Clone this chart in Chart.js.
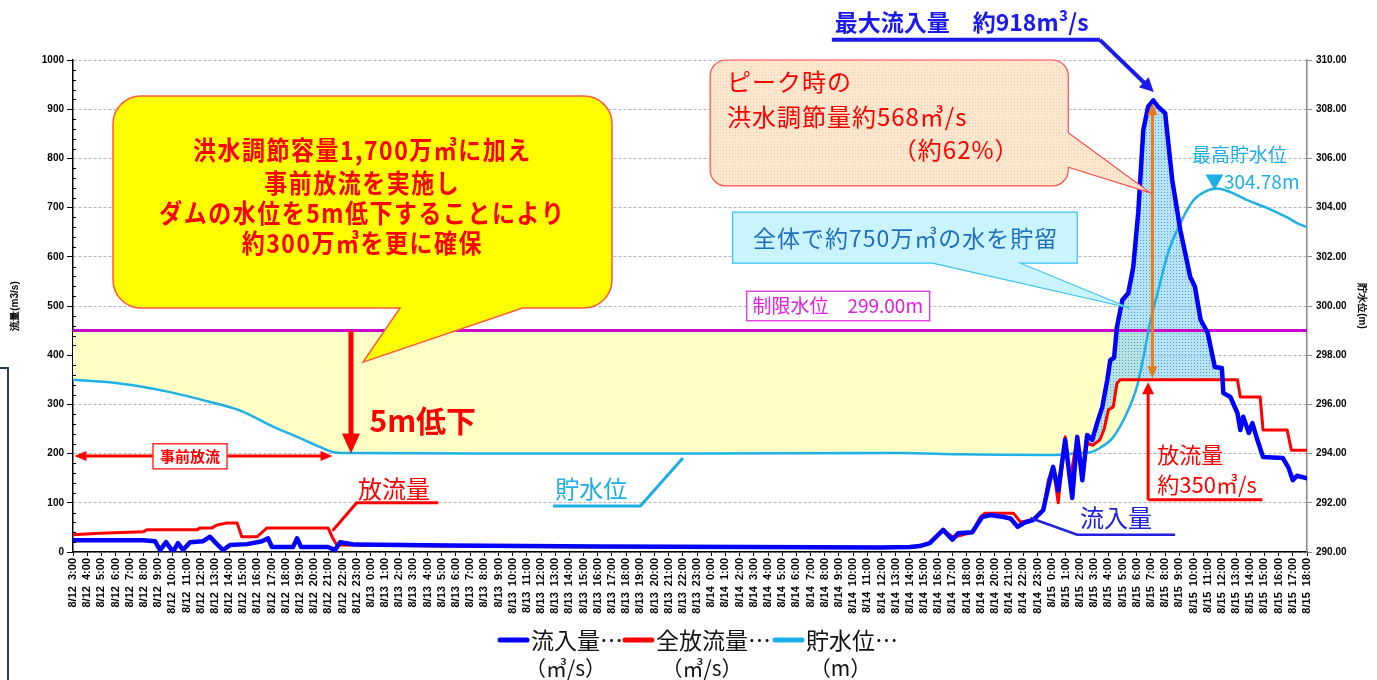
<!DOCTYPE html>
<html>
<head>
<meta charset="utf-8">
<script src="https://cdn.jsdelivr.net/npm/chart.js@4/dist/chart.umd.min.js"></script>
<style>
  html, body { margin: 0; padding: 0; background: #fff; }
  #wrap { width: 1377px; height: 680px; position: relative; }
</style>
</head>
<body>
<div id="wrap"><canvas id="dam"></canvas></div>
<script>
// hourly axis labels, 8/12 3:00 .. 8/15 18:00 (x value = hours since 8/12 3:00)
const DAYS = [['8/12', 3, 23], ['8/13', 0, 23], ['8/14', 0, 23], ['8/15', 0, 18]];
const TIME_LABELS = [];
DAYS.forEach(([d, from, to]) => { for (let h = from; h <= to; h++) TIME_LABELS.push(d + '  ' + h + ':00'); });

// 流入量 (m3/s)
const INFLOW_T = [0, 1.9, 4.94, 5.78, 6.14, 6.56, 7.05, 7.4, 7.76, 8.25, 9.17, 9.66, 10.08, 10.58, 11.07, 12.27, 13.33, 13.75, 14.03, 15.51,
  15.8, 16.08, 17.98, 18.48, 18.83, 19.89, 26.6, 37.2, 47.7, 56.9, 59.0, 59.7, 60.4, 61.35, 62.0, 62.4, 63.4, 64.1, 64.67, 65.6,
  66.1, 66.6, 67.1, 67.7, 68.4, 68.76, 69.1, 69.46, 69.95, 70.45, 70.8, 71.16, 71.5, 71.86, 72.2, 72.57, 72.92, 73.13, 73.4, 73.6,
  73.98, 74.4, 74.75, 75.1, 75.46, 75.8, 76.16, 76.5, 77.0, 77.5, 78.07, 78.77, 79.1, 79.5, 80.0, 80.5, 81.0, 81.1, 81.6, 82.1,
  82.3, 82.5, 82.9, 83.15, 83.5, 83.9, 85.3, 85.7, 86.0, 86.3, 87];
const INFLOW = [24, 24, 24, 22, 4, 20, 0, 18, 4, 20, 22, 31, 18, 4, 14, 16, 22, 28, 10, 10,
  28, 10, 10, 4, 20, 15, 13, 11, 10, 9, 10, 12, 18, 45, 25, 38, 40, 71, 75, 71,
  68, 51, 60, 65, 85, 132, 173, 125, 228, 110, 234, 146, 238, 228, 262, 295, 350, 390, 395, 457,
  512, 526, 579, 689, 858, 905, 918, 905, 892, 756, 654, 559, 539, 472, 445, 376, 374, 323, 315, 282,
  248, 275, 242, 262, 228, 193, 191, 171, 146, 155, 150];

// 全放流量 (m3/s)
const OUTFLOW_T = [0, 1.9, 4.94, 5.2, 8.74, 8.96, 9.8, 10.15, 10.86, 11.57, 11.9, 12.98, 13.68, 17.98, 18.27, 18.6, 23.06, 30.1, 44.2, 58.3,
  59.4, 60.4, 61.35, 62.06, 63.4, 63.96, 64.3, 66.3, 66.8, 67.7, 68.4, 68.76, 69.1, 69.46, 69.95, 70.3, 70.8, 71.16, 71.5, 71.9,
  72.4, 72.7, 73.0, 73.34, 73.6, 73.84, 82.1, 82.3, 83.7, 83.9, 85.6, 85.9, 87];
const OUTFLOW = [35, 38, 41, 45, 45, 49, 49, 55, 59, 59, 31, 31, 49, 49, 31, 14, 13, 11, 10, 9,
  10, 18, 45, 30, 40, 71, 79, 79, 61, 65, 85, 146, 173, 100, 234, 146, 234, 160, 221, 217,
  228, 250, 289, 295, 343, 350, 350, 315, 315, 248, 248, 207, 207];

// 貯水位 (m)
const LEVEL_T = [0, 3.3, 6.84, 9.66, 11.8, 14.1, 16.0, 17.4, 18.27, 19.2, 30.1, 44.2, 58.3, 62.5, 65.4, 68.9, 71.0, 71.7, 72.4, 73.34,
  74.3, 75.0, 75.46, 75.96, 76.45, 77.2, 78.07, 79.0, 80.0, 80.7, 81.6, 82.8, 84.2, 85.6, 86.3, 87];
const LEVEL = [297.0, 296.85, 296.5, 296.1, 295.75, 295.1, 294.63, 294.27, 294.07, 294.02, 294.0, 294.0, 294.02, 293.97, 293.95, 293.94, 294.02, 294.05, 294.23, 294.67,
  295.65, 296.7, 297.9, 299.4, 300.5, 302.15, 303.37, 304.3, 304.7, 304.78, 304.63, 304.3, 303.98, 303.6, 303.37, 303.2];

const LIMIT_LEVEL = 299.0;
const PEAK_INFLOW = 918, PEAK_OUTFLOW = 350, PRE_LEVEL = 294.0;

const JP = '"Noto Sans CJK JP", "Noto Sans", sans-serif';
const pts = (t, v) => t.map((x, i) => ({x: x, y: v[i]}));

function dots(base, dot, step) {
  const c = document.createElement('canvas');
  c.width = step; c.height = step;
  const g = c.getContext('2d');
  g.fillStyle = base; g.fillRect(0, 0, step, step);
  g.fillStyle = dot; g.fillRect(0, 0, 1, 1);
  return g.createPattern(c, 'repeat');
}
const storeFill = dots('rgba(135,208,242,0.6)', 'rgba(40,130,200,0.7)', 3);
const peachFill = dots('#fde7cf', '#f3cfae', 3);

function txt(ctx, s, x, y, size, color, o) {
  o = o || {};
  ctx.save();
  ctx.font = (o.weight || 'normal') + ' ' + size + 'px ' + JP;
  ctx.fillStyle = color;
  ctx.textAlign = o.align || 'left';
  ctx.textBaseline = 'middle';
  if (o.ls) ctx.letterSpacing = o.ls;
  ctx.translate(x, y);
  ctx.scale(1, o.sy || 1);
  ctx.fillText(s, 0, 0);
  ctx.restore();
}

function head(ctx, x, y, ang, len, half, color) {
  ctx.save();
  ctx.translate(x, y); ctx.rotate(ang);
  ctx.beginPath(); ctx.moveTo(0, 0); ctx.lineTo(-len, -half); ctx.lineTo(-len, half); ctx.closePath();
  ctx.fillStyle = color; ctx.fill();
  ctx.restore();
}

function arrow(ctx, x0, y0, x1, y1, w, color, len, half, both) {
  const ang = Math.atan2(y1 - y0, x1 - x0), c = Math.cos(ang), s = Math.sin(ang);
  ctx.save();
  ctx.strokeStyle = color; ctx.lineWidth = w;
  ctx.beginPath();
  ctx.moveTo(both ? x0 + c * len * 0.8 : x0, both ? y0 + s * len * 0.8 : y0);
  ctx.lineTo(x1 - c * len * 0.8, y1 - s * len * 0.8);
  ctx.stroke();
  ctx.restore();
  head(ctx, x1, y1, ang, len, half, color);
  if (both) head(ctx, x0, y0, ang + Math.PI, len, half, color);
}

function polyline(ctx, list, w, color) {
  ctx.save();
  ctx.strokeStyle = color; ctx.lineWidth = w; ctx.lineJoin = 'miter';
  ctx.beginPath();
  list.forEach((p, i) => i ? ctx.lineTo(p[0], p[1]) : ctx.moveTo(p[0], p[1]));
  ctx.stroke();
  ctx.restore();
}

// rounded box with a pointer on its right or bottom side
function callout(ctx, x0, y0, x1, y1, r, side, a, b, tip, fill, stroke, lw) {
  ctx.save();
  ctx.beginPath();
  ctx.moveTo(x0 + r, y0);
  ctx.lineTo(x1 - r, y0);
  ctx.arcTo(x1, y0, x1, y0 + r, r);
  if (side === 'right') { ctx.lineTo(x1, a); ctx.lineTo(tip[0], tip[1]); ctx.lineTo(x1, b); }
  ctx.lineTo(x1, y1 - r);
  ctx.arcTo(x1, y1, x1 - r, y1, r);
  if (side === 'bottom') { ctx.lineTo(b, y1); ctx.lineTo(tip[0], tip[1]); ctx.lineTo(a, y1); }
  ctx.lineTo(x0 + r, y1);
  ctx.arcTo(x0, y1, x0, y1 - r, r);
  ctx.lineTo(x0, y0 + r);
  ctx.arcTo(x0, y0, x0 + r, y0, r);
  ctx.closePath();
  ctx.fillStyle = fill; ctx.fill();
  ctx.strokeStyle = stroke; ctx.lineWidth = lw; ctx.stroke();
  ctx.restore();
}

const annotations = {
  id: 'annotations',
  beforeDatasetsDraw(chart) {
    const {ctx, chartArea: a, scales: {y2}} = chart;
    const yy = y2.getPixelForValue(LIMIT_LEVEL);
    ctx.save();
    ctx.strokeStyle = '#cc00cc'; ctx.lineWidth = 3;
    ctx.beginPath(); ctx.moveTo(a.left, yy); ctx.lineTo(a.right, yy); ctx.stroke();
    ctx.restore();
  },
  afterDraw(chart) {
    const {ctx, chartArea: a, scales: {x, y, y2}} = chart;
    const X = h => x.getPixelForValue(h), Q = v => y.getPixelForValue(v), L = m => y2.getPixelForValue(m);

    // minor ticks on the flow axis
    ctx.save(); ctx.strokeStyle = '#000'; ctx.lineWidth = 1;
    for (let v = 20; v < 1000; v += 20) {
      if (v % 100 === 0) continue;
      const yy = Math.round(Q(v)) + 0.5;
      ctx.beginPath(); ctx.moveTo(a.left, yy); ctx.lineTo(a.left + 3, yy); ctx.stroke();
    }
    ctx.restore();

    // 制限水位 label
    ctx.save();
    ctx.fillStyle = '#fff'; ctx.fillRect(X(47.5), Q(530), X(60.4) - X(47.5), Q(470) - Q(530));
    ctx.strokeStyle = '#e020e0'; ctx.lineWidth = 1.2; ctx.strokeRect(X(47.5), Q(530), X(60.4) - X(47.5), Q(470) - Q(530));
    ctx.restore();
    txt(ctx, '制限水位　299.00m', X(47.9), Q(500), 19, '#e020e0');

    // 事前放流 double arrow
    arrow(ctx, X(0.1), Q(195), X(18.3), Q(195), 3, '#ff0000', 12, 5, true);
    ctx.save();
    ctx.fillStyle = '#fff'; ctx.fillRect(X(5.64), Q(220), X(10.86) - X(5.64), Q(169) - Q(220));
    ctx.strokeStyle = '#ff3030'; ctx.lineWidth = 1.5; ctx.strokeRect(X(5.64), Q(220), X(10.86) - X(5.64), Q(169) - Q(220));
    ctx.restore();
    txt(ctx, '事前放流', X(8.25), Q(195), 15, '#ff0000', {align: 'center', weight: 'bold'});

    // 5m低下
    arrow(ctx, X(19.6), L(LIMIT_LEVEL), X(19.6), L(PRE_LEVEL), 5, '#ff0000', 20, 9);
    txt(ctx, '5m低下', X(20.9), Q(268), 30, '#ff0000', {weight: 'bold'});

    // 放流量 (left)
    txt(ctx, '放流量', X(20.1), Q(128), 24, '#ff0000');
    polyline(ctx, [[X(25.75), Q(100)], [X(20.0), Q(100)], [X(18.3), Q(43)]], 3, '#ff0000');

    // 貯水位
    txt(ctx, '貯水位', X(34.0), Q(128), 24, '#1eaee6');
    polyline(ctx, [[X(33.85), Q(93.5)], [X(40.0), Q(93.5)], [X(43.0), Q(191)]], 3, '#1eaee6');

    // 流入量 (right)
    txt(ctx, '流入量', X(71.0), Q(70), 24, '#2020dd');
    polyline(ctx, [[X(67.5), Q(69)], [X(70.8), Q(35)], [X(77.7), Q(35)]], 2.5, '#2020dd');

    // 放流量 約350
    arrow(ctx, X(75.8), Q(106), X(75.8), Q(PEAK_OUTFLOW - 5), 3, '#ff0000', 12, 6);
    polyline(ctx, [[X(75.8), Q(106)], [X(83.85), Q(106)]], 3, '#ff0000');
    txt(ctx, '放流量', X(76.45), Q(197), 22, '#ff0000');
    txt(ctx, '約350㎥/s', X(76.45), Q(136), 22, '#ff0000');

    // peak regulation arrow
    arrow(ctx, X(76.1), Q(PEAK_INFLOW - 6), X(76.1), Q(PEAK_OUTFLOW + 3), 3, '#e87a1a', 12, 5, true);

    // 最高貯水位
    txt(ctx, '最高貯水位', X(78.9), Q(807), 19, '#1eaee6');
    txt(ctx, '▼304.78m', X(79.8), Q(752), 19, '#1eaee6');

    // 最大流入量
    txt(ctx, '最大流入量　約918m³/s', X(53.7), Q(1077), 23, '#1a1aee', {weight: 'bold'});
    polyline(ctx, [[X(53.5), Q(1041)], [X(72.4), Q(1041)]], 4, '#1a1aee');
    arrow(ctx, X(72.4), Q(1041), X(76.2), Q(935), 4, '#1a1aee', 14, 7);

    // yellow bubble
    callout(ctx, X(2.82), Q(927), X(38.0), Q(496), 28, 'bottom', X(23.06), X(31.7), [X(20.45), Q(386)], '#ffff00', '#ff5a3c', 1.5);
    const bub = ['洪水調節容量1,700万㎥に加え', '事前放流を実施し', 'ダムの水位を5m低下することにより', '約300万㎥を更に確保'];
    [817, 750, 689, 628].forEach((v, i) => txt(ctx, bub[i], X(20.4), Q(v), 23, '#ff0000', {align: 'center', sy: 1.12, ls: '1.5px', weight: 'bold'}));

    // peach box
    callout(ctx, X(44.92), Q(1000), X(70.17), Q(744), 16, 'right', Q(852), Q(782), [X(75.95), Q(730)], peachFill, '#ff4a4a', 1.2);
    txt(ctx, 'ピーク時の', X(46.1), Q(955), 24, '#ff0000', {ls: '1px'});
    txt(ctx, '洪水調節量約568㎥/s', X(46.1), Q(884), 24, '#ff0000', {ls: '1px'});
    txt(ctx, '（約62%）', X(57.8), Q(817), 24, '#ff0000', {ls: '1px'});

    // cyan box
    callout(ctx, X(46.5), Q(691), X(70.8), Q(587), 0, 'bottom', X(60.6), X(66.8), [X(74.5), Q(496)], '#c9f3fd', '#38c4ee', 1.2);
    txt(ctx, '全体で約750万㎥の水を貯留', X(58.7), Q(638), 23, '#1e6fbf', {align: 'center', ls: '1px'});

    // legend (two-line labels)
    const items = [
      {name: '流入量', unit: '（㎥/s）', color: '#0000ff', x: 498},
      {name: '全放流量', unit: '（㎥/s）', color: '#ff0000', x: 623},
      {name: '貯水位', unit: '（m）', color: '#1eaee6', x: 773}
    ];
    ctx.save();
    items.forEach(it => {
      ctx.strokeStyle = it.color; ctx.lineWidth = 5; ctx.lineCap = 'round';
      ctx.beginPath(); ctx.moveTo(it.x + 2, 640); ctx.lineTo(it.x + 29, 640); ctx.stroke();
      ctx.font = '23px ' + JP;
      const w = ctx.measureText(it.name).width;
      txt(ctx, it.name + '…', it.x + 33, 640, 23, '#111');
      txt(ctx, it.unit, it.x + 33 + w / 2, 668, 21, '#111', {align: 'center'});
    });
    ctx.restore();

    // frame edge of the slide panel at the far left
    ctx.save();
    ctx.strokeStyle = '#2b3a55'; ctx.lineWidth = 2;
    ctx.beginPath(); ctx.moveTo(0, 368); ctx.lineTo(8, 368); ctx.lineTo(8, 680); ctx.stroke();
    ctx.restore();
  }
};

Chart.defaults.font.family = '"Liberation Sans", Arial, sans-serif';
Chart.defaults.color = '#000';

new Chart(document.getElementById('dam'), {
  type: 'line',
  data: {
    datasets: [
      {
        label: '流入量', data: pts(INFLOW_T, INFLOW), yAxisID: 'y',
        borderColor: '#0000ff', borderWidth: 4.5, pointRadius: 0, borderJoinStyle: 'round', borderCapStyle: 'round',
        fill: {target: 1, above: storeFill, below: 'rgba(0,0,0,0)'}
      },
      {
        label: '全放流量', data: pts(OUTFLOW_T, OUTFLOW), yAxisID: 'y',
        borderColor: '#ff0000', borderWidth: 3, pointRadius: 0, borderJoinStyle: 'round', fill: false
      },
      {
        label: '貯水位', data: pts(LEVEL_T, LEVEL), yAxisID: 'y2',
        borderColor: '#1eb0e6', borderWidth: 2.5, pointRadius: 0, cubicInterpolationMode: 'monotone',
        fill: {target: {value: LIMIT_LEVEL}, above: 'rgba(0,0,0,0)', below: '#ffffc6'}
      }
    ]
  },
  options: {
    responsive: true,
    maintainAspectRatio: false,
    animation: false,
    layout: {padding: {top: 60, left: 0, right: 0, bottom: 0}},
    plugins: {
      legend: {display: false},
      tooltip: {enabled: false},
      filler: {drawTime: 'beforeDatasetsDraw', propagate: false}
    },
    scales: {
      x: {
        type: 'linear', min: 0, max: 87, offset: false,
        afterFit: s => { s.height = 128; },
        grid: {drawOnChartArea: false, drawTicks: true, tickLength: 4, tickColor: '#000'},
        border: {display: true, color: '#000', width: 1.5},
        ticks: {
          stepSize: 1, autoSkip: false, maxTicksLimit: 200, minRotation: 90, maxRotation: 90, padding: 2,
          font: {size: 11, weight: 'bold'},
          callback: v => TIME_LABELS[Math.round(v)] || ''
        }
      },
      y: {
        position: 'left', min: 0, max: 1000,
        afterFit: s => { s.width = 73; },
        grid: {color: '#b4b4b4', lineWidth: 1, tickColor: '#000', tickLength: 6},
        border: {display: true, color: '#000', width: 1.5, dash: [3, 2]},
        ticks: {stepSize: 100, padding: 3, font: {size: 10, weight: 'bold'}, callback: v => String(v)},
        title: {display: true, text: '流量(m3/s)', font: {size: 10, weight: 'bold'}, padding: {top: 9, bottom: 0}}
      },
      y2: {
        position: 'right', min: 290, max: 310,
        afterFit: s => { s.width = 70; },
        grid: {drawOnChartArea: false, tickColor: '#888', tickLength: 5},
        border: {display: true, color: '#888', width: 1.5},
        ticks: {stepSize: 2, padding: 4, font: {size: 10, weight: 'bold'}, callback: v => v.toFixed(2)},
        title: {display: true, text: '貯水位(m)', font: {size: 10, weight: 'bold'}, padding: {top: 9, bottom: 0}}
      }
    }
  },
  plugins: [annotations]
});
</script>
</body>
</html>
